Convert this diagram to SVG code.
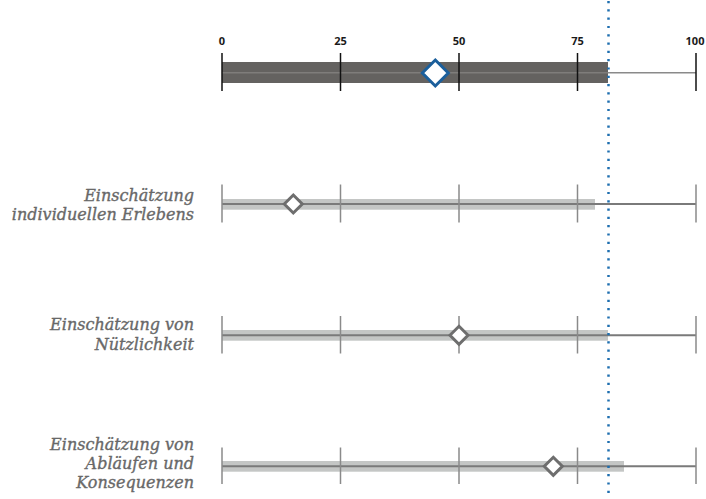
<svg xmlns="http://www.w3.org/2000/svg" width="706" height="499" viewBox="0 0 706 499">
<style>
.lbl{font-family:"DejaVu Serif","Liberation Serif",serif;font-style:italic;font-size:16px;fill:#686868;stroke:#686868;stroke-width:0.35;text-anchor:end}
.ax{font-family:"Open Sans","Liberation Sans",sans-serif;font-weight:bold;font-size:11px;fill:#1a1a1a;text-anchor:middle}
.tk{stroke:#111;stroke-width:1.5}
.tg{stroke:#8a8a8a;stroke-width:1.5}
.lbar{fill:#c4c6c5}
.cl{stroke:#7a7a7a;stroke-width:2}
.dm{fill:#fff;stroke:#6e6e6e;stroke-width:3}
</style>
<rect width="706" height="499" fill="#fff"/>
<g id="axis">
<text class="ax" x="222" y="45">0</text>
<text class="ax" x="340.5" y="45">25</text>
<text class="ax" x="459" y="45">50</text>
<text class="ax" x="577.5" y="45">75</text>
<text class="ax" x="695" y="45">100</text>
</g>
<g id="total">
<rect x="222" y="62" width="386" height="21" fill="#646260"/>
<line x1="222" y1="72.7" x2="608" y2="72.7" stroke="#7f7d7b" stroke-width="1.5"/>
<line x1="608" y1="72.7" x2="696" y2="72.7" stroke="#8a8a8a" stroke-width="1.5"/>
<line class="tk" x1="222" y1="53" x2="222" y2="91"/>
<line class="tk" x1="340.5" y1="53" x2="340.5" y2="91"/>
<line class="tk" x1="459" y1="53" x2="459" y2="91"/>
<line class="tk" x1="577.5" y1="53" x2="577.5" y2="91"/>
<line class="tk" x1="696" y1="53" x2="696" y2="91"/>
<path d="M435.3,60 L448.3,73 L435.3,86 L422.3,73 Z" fill="#fff" stroke="#1b5f9c" stroke-width="3"/>
</g>
<g id="row1">
<text class="lbl" x="194" y="201">Einschätzung</text>
<text class="lbl" x="194" y="219.5">individuellen Erlebens</text>
<rect class="lbar" x="222" y="199" width="373" height="10.7"/>
<line class="cl" x1="222" y1="204" x2="696" y2="204"/>
<line class="tg" x1="222" y1="184.5" x2="222" y2="222.5"/>
<line class="tg" x1="340.5" y1="184.5" x2="340.5" y2="222.5"/>
<line class="tg" x1="459" y1="184.5" x2="459" y2="222.5"/>
<line class="tg" x1="577.5" y1="184.5" x2="577.5" y2="222.5"/>
<line class="tg" x1="696" y1="184.5" x2="696" y2="222.5"/>
<path class="dm" d="M293.3,195 L302.3,204 L293.3,213 L284.3,204 Z"/>
</g>
<g id="row2">
<text class="lbl" x="194" y="330">Einschätzung von</text>
<text class="lbl" x="194" y="349.5">Nützlichkeit</text>
<rect class="lbar" x="222" y="330" width="386" height="10.7"/>
<line class="cl" x1="222" y1="335.3" x2="696" y2="335.3"/>
<line class="tg" x1="222" y1="316" x2="222" y2="353.5"/>
<line class="tg" x1="340.5" y1="316" x2="340.5" y2="353.5"/>
<line class="tg" x1="459" y1="316" x2="459" y2="353.5"/>
<line class="tg" x1="577.5" y1="316" x2="577.5" y2="353.5"/>
<line class="tg" x1="696" y1="316" x2="696" y2="353.5"/>
<path class="dm" d="M459,326.3 L468,335.3 L459,344.3 L450,335.3 Z"/>
</g>
<g id="row3">
<text class="lbl" x="194" y="450">Einschätzung von</text>
<text class="lbl" x="194" y="469">Abläufen und</text>
<text class="lbl" x="194" y="488">Konsequenzen</text>
<rect class="lbar" x="222" y="461" width="402" height="10.7"/>
<line class="cl" x1="222" y1="466.3" x2="696" y2="466.3"/>
<line class="tg" x1="222" y1="447.5" x2="222" y2="484"/>
<line class="tg" x1="340.5" y1="447.5" x2="340.5" y2="484"/>
<line class="tg" x1="459" y1="447.5" x2="459" y2="484"/>
<line class="tg" x1="577.5" y1="447.5" x2="577.5" y2="484"/>
<line class="tg" x1="696" y1="447.5" x2="696" y2="484"/>
<path class="dm" d="M553.3,457.3 L562.3,466.3 L553.3,475.3 L544.3,466.3 Z"/>
</g>
<g id="connectors">
<line x1="608.5" y1="1" x2="608.5" y2="499" stroke="#1f6fb0" stroke-width="2.5" stroke-dasharray="2.2 6.1"/>
</g>
</svg>
